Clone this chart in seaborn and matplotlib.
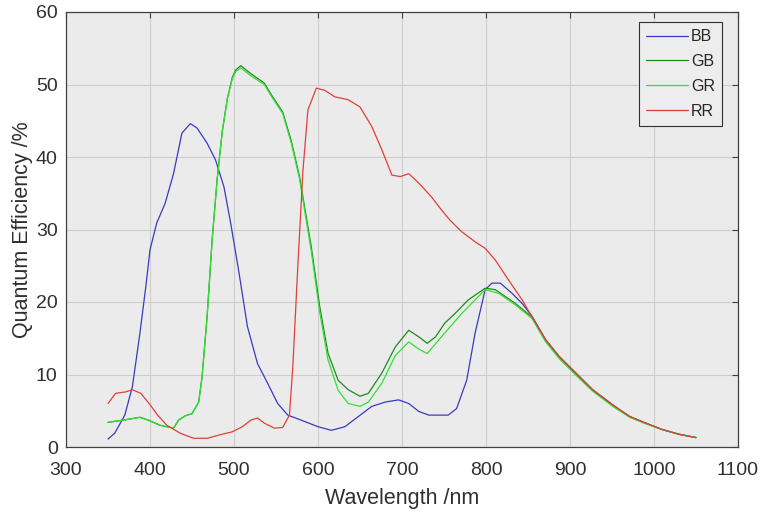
import numpy as np
import pandas as pd
import matplotlib
matplotlib.use("Agg")
import matplotlib.pyplot as plt
import seaborn as sns

# ---- data ----
tail_x = [855, 871, 887, 907, 927, 951, 971, 990, 1010, 1030, 1050]
tail_y = [18.0, 14.8, 12.5, 10.2, 7.9, 5.8, 4.2, 3.3, 2.4, 1.75, 1.3]

bb_x = [350, 358, 370, 379, 388, 395, 400, 408, 418, 428, 438, 448, 456, 468, 478, 488,
        496, 506, 516, 528, 540, 552, 564, 580, 600, 616, 632, 648, 664, 680, 696, 708,
        720, 732, 755, 765, 777, 787, 799, 807, 817, 831, 843] + tail_x
bb_y = [1.1, 1.9, 4.4, 8.3, 15.7, 22.1, 27.2, 30.9, 33.6, 37.7, 43.3, 44.6, 44.0, 41.9, 39.6, 35.9,
        30.9, 24.0, 16.6, 11.5, 8.8, 6.0, 4.4, 3.7, 2.8, 2.3, 2.8, 4.2, 5.6, 6.2, 6.5, 6.0,
        4.9, 4.4, 4.4, 5.3, 9.2, 15.7, 21.7, 22.6, 22.6, 21.2, 19.8] + tail_y

gb_x = [350, 368, 388, 398, 412, 428, 434, 442, 450, 458, 462, 468, 474, 480, 486, 492,
        498, 502, 508, 520, 536, 546, 558, 568, 578, 592, 602, 612, 624, 636, 650, 660,
        676, 692, 708, 720, 730, 740, 751, 763, 779, 799, 811, 835] + tail_x
gb_y = [3.4, 3.7, 4.1, 3.7, 3.0, 2.6, 3.7, 4.3, 4.6, 6.2, 9.7, 18.0, 28.6, 37.0, 43.5, 48.0,
        51.0, 52.0, 52.6, 51.5, 50.2, 48.3, 46.2, 42.3, 37.3, 27.6, 19.4, 12.9, 9.2, 7.9, 7.0, 7.4,
        10.2, 13.8, 16.1, 15.2, 14.3, 15.2, 17.1, 18.4, 20.3, 21.9, 21.7, 19.8] + [17.9, 14.7, 12.4, 10.1, 7.8, 5.7, 4.2, 3.3, 2.4, 1.75, 1.3]

gr_x = [350, 368, 388, 398, 412, 428, 434, 442, 450, 458, 462, 468, 474, 480, 486, 492,
        498, 502, 508, 520, 536, 546, 558, 568, 578, 592, 602, 612, 624, 636, 650, 660,
        676, 692, 708, 720, 730, 747, 771, 799, 815, 835] + tail_x
gr_y = [3.4, 3.7, 4.1, 3.7, 3.0, 2.6, 3.7, 4.3, 4.6, 6.2, 9.7, 18.0, 28.6, 37.0, 43.5, 48.0,
        50.8, 51.8, 52.3, 51.2, 50.0, 48.1, 46.0, 42.0, 37.0, 27.0, 18.6, 12.0, 7.8, 6.0, 5.6, 6.2,
        8.8, 12.6, 14.5, 13.5, 12.9, 15.2, 18.4, 21.7, 21.2, 19.6] + [17.7, 14.5, 12.2, 9.9, 7.7, 5.6, 4.1, 3.2, 2.4, 1.75, 1.3]

rr_x = [350, 359, 371, 379, 389, 399, 409, 420, 436, 452, 468, 484, 498, 510, 520, 528,
        536, 548, 558, 566, 570, 576, 582, 588, 598, 608, 620, 636, 650, 664, 676, 688,
        698, 708, 720, 735, 747, 757, 771, 787, 799, 811, 827, 843, 859] + tail_x[1:]
rr_y = [6.0, 7.4, 7.6, 7.9, 7.4, 6.0, 4.4, 3.0, 1.9, 1.2, 1.2, 1.7, 2.1, 2.8, 3.7, 4.0,
        3.3, 2.6, 2.7, 4.4, 11.0, 25.0, 38.0, 46.5, 49.5, 49.2, 48.3, 47.9, 46.9, 44.2, 41.0, 37.5,
        37.3, 37.7, 36.4, 34.5, 32.7, 31.3, 29.7, 28.3, 27.4, 25.8, 23.0, 20.3, 17.1] + tail_y[1:]

series = ["BB", "GB", "GR", "RR"]
colors = {"BB": "#3a3ac0", "GB": "#1f8a1f", "GR": "#33e033", "RR": "#e0403a"}

frames = []
for name, xs, ys in [("BB", bb_x, bb_y), ("GB", gb_x, gb_y), ("GR", gr_x, gr_y), ("RR", rr_x, rr_y)]:
    frames.append(pd.DataFrame({"Wavelength": xs, "QE": ys, "Series": name}))
df = pd.concat(frames, ignore_index=True)

# ---- plot ----
sns.set_theme(style="whitegrid")
plt.rcParams["font.family"] = ["Liberation Sans", "DejaVu Sans"]

fig = plt.figure(figsize=(7.66, 5.17), dpi=100)
ax = fig.add_axes([66 / 766, 1 - 447 / 517, (738 - 66) / 766, (447 - 12) / 517])
ax.set_facecolor("#ebebeb")

sns.lineplot(data=df, x="Wavelength", y="QE", hue="Series", hue_order=series,
             palette=colors, sort=False, estimator=None, linewidth=0.9, ax=ax)

ax.set_xlim(300, 1100)
ax.set_ylim(0, 60)
ax.set_xticks(np.arange(300, 1101, 100))
ax.set_yticks(np.arange(0, 61, 10))
ax.grid(True, color="#cdcdcd", linewidth=0.8)
for s in ax.spines.values():
    s.set_visible(True)
    s.set_color("#404040")
    s.set_linewidth(0.9)
ax.tick_params(direction="in", length=4, width=0.8, color="#404040",
               top=True, right=True, labelsize=14, labelcolor="#303030")
ax.tick_params(axis="x", pad=11)
ax.tick_params(axis="y", pad=6)
ax.set_xlabel("Wavelength /nm", fontsize=15.5, color="#303030", labelpad=6)
ax.set_ylabel("Quantum Efficiency /%", fontsize=15.5, color="#303030", labelpad=2)

leg = ax.legend(loc="upper right", bbox_to_anchor=((722 - 66) / 672, 1 - 10 / 435),
                borderaxespad=0, fontsize=11.5, handlelength=2.6, labelspacing=0.62,
                handletextpad=0.2, borderpad=0.45, fancybox=False, frameon=True)
leg.get_frame().set_edgecolor("#303030")
leg.get_frame().set_facecolor("#ededed")
leg.get_frame().set_linewidth(0.8)
leg.get_frame().set_alpha(1)

fig.savefig("out.png", dpi=100, facecolor="white")
